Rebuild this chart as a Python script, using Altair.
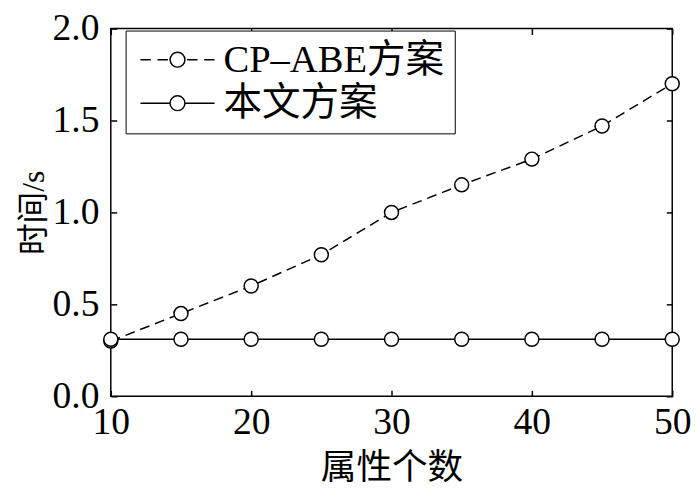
import altair as alt
import pandas as pd

# ---- data ----
attrs = [10, 15, 20, 25, 30, 35, 40, 45, 50]
cp_abe = [0.30, 0.45, 0.60, 0.77, 1.00, 1.15, 1.29, 1.47, 1.70]
ours = [0.31, 0.31, 0.31, 0.31, 0.31, 0.31, 0.31, 0.31, 0.31]
series_names = ["CP–ABE方案", "本文方案"]
x_ticks = [10, 20, 30, 40, 50]
y_ticks = [0.0, 0.5, 1.0, 1.5, 2.0]

df = pd.DataFrame({
    "x": attrs + attrs,
    "y": cp_abe + ours,
    "s": [series_names[0]] * len(attrs) + [series_names[1]] * len(attrs),
})

FONT = "Liberation Serif, Noto Sans CJK SC"
W, H = 568, 372
FS = 38

xs = alt.Scale(domain=[10, 50], nice=False, zero=False)
ys = alt.Scale(domain=[0, 2], nice=False)

# legend symbol paths: line + circle
dash_path = ("M-5,0L-3.6,0M-2.7,0L-1.3,0M1.3,0L2.7,0M3.6,0L5,0"
             "M-1,0A1,1 0 1,0 1,0A1,1 0 1,0 -1,0")
solid_path = "M-5,0L-1,0M1,0L5,0M-1,0A1,1 0 1,0 1,0A1,1 0 1,0 -1,0"

tick_common = dict(labels=False, domain=False, ticks=True, tickSize=6,
                   tickColor="black", tickWidth=1.5, title=None, grid=False)

base = alt.Chart(df)

line_cp = base.transform_filter(
    alt.datum.s == series_names[0]
).mark_line(color="black", strokeWidth=1.5, strokeDash=[10, 6]).encode(
    x=alt.X("x:Q", scale=xs, axis=alt.Axis(
        values=x_ticks, ticks=False, tickSize=0, domain=False, grid=False,
        title="属性个数", labelFont=FONT, labelFontSize=FS, labelColor="black",
        labelPadding=8, labelFlush=False, titleFont=FONT, titleFontSize=36,
        titleFontWeight="normal", titleColor="black", titlePadding=9, format="d")),
    y=alt.Y("y:Q", scale=ys, axis=alt.Axis(
        values=y_ticks, ticks=False, tickSize=0, domain=False, grid=False,
        title="时间/s", labelFont=FONT, labelFontSize=FS, labelColor="black",
        labelPadding=12, format=".1f", labelFlush=False, titleFont=FONT,
        titleFontSize=32, titleFontWeight="normal", titleColor="black",
        titlePadding=2)),
)

line_ours = base.transform_filter(
    alt.datum.s == series_names[1]
).mark_line(color="black", strokeWidth=1.5).encode(
    x=alt.X("x:Q", scale=xs, axis=None),
    y=alt.Y("y:Q", scale=ys, axis=None),
)

points = base.mark_point(shape="circle", filled=True, fill="white",
                         stroke="black", strokeWidth=1.5, size=200,
                         opacity=1).encode(
    x=alt.X("x:Q", scale=xs, axis=alt.Axis(values=x_ticks, orient="top",
                                           offset=-H, **tick_common)),
    y=alt.Y("y:Q", scale=ys, axis=alt.Axis(values=y_ticks, orient="right",
                                           offset=-W, **tick_common)),
    detail="s:N",
)

legend_layer = base.transform_filter("false").mark_point(
    stroke="black", strokeWidth=1.5).encode(
    x=alt.X("x:Q", scale=xs, axis=alt.Axis(values=x_ticks, orient="bottom",
                                           offset=-H, **tick_common)),
    y=alt.Y("y:Q", scale=ys, axis=alt.Axis(values=y_ticks, orient="left",
                                           offset=-W, **tick_common)),
    shape=alt.Shape("s:N", scale=alt.Scale(domain=series_names,
                                           range=[dash_path, solid_path]),
                    legend=alt.Legend(
                        title=None, orient="none", legendX=15, legendY=2,
                        strokeColor="black", fillColor="white", padding=10,
                        labelFont=FONT, labelFontSize=39, labelColor="black",
                        labelLimit=600,
                        symbolSize=225, symbolStrokeWidth=1.5,
                        symbolStrokeColor="black", symbolFillColor="white",
                        symbolOpacity=1, labelOffset=27, rowPadding=4,
                        symbolOffset=23)),
)

chart = alt.layer(line_cp, line_ours, points, legend_layer).resolve_axis(
    x="independent", y="independent"
).properties(
    width=W, height=H,
    autosize=alt.AutoSizeParams(type="none"),
    padding={"left": 104, "top": 18, "right": 20, "bottom": 92},
).configure(
    background="white"
).configure_view(
    stroke="black", strokeWidth=1.5
)

chart.save("out.html", embed_options={"renderer": "svg", "actions": False})
